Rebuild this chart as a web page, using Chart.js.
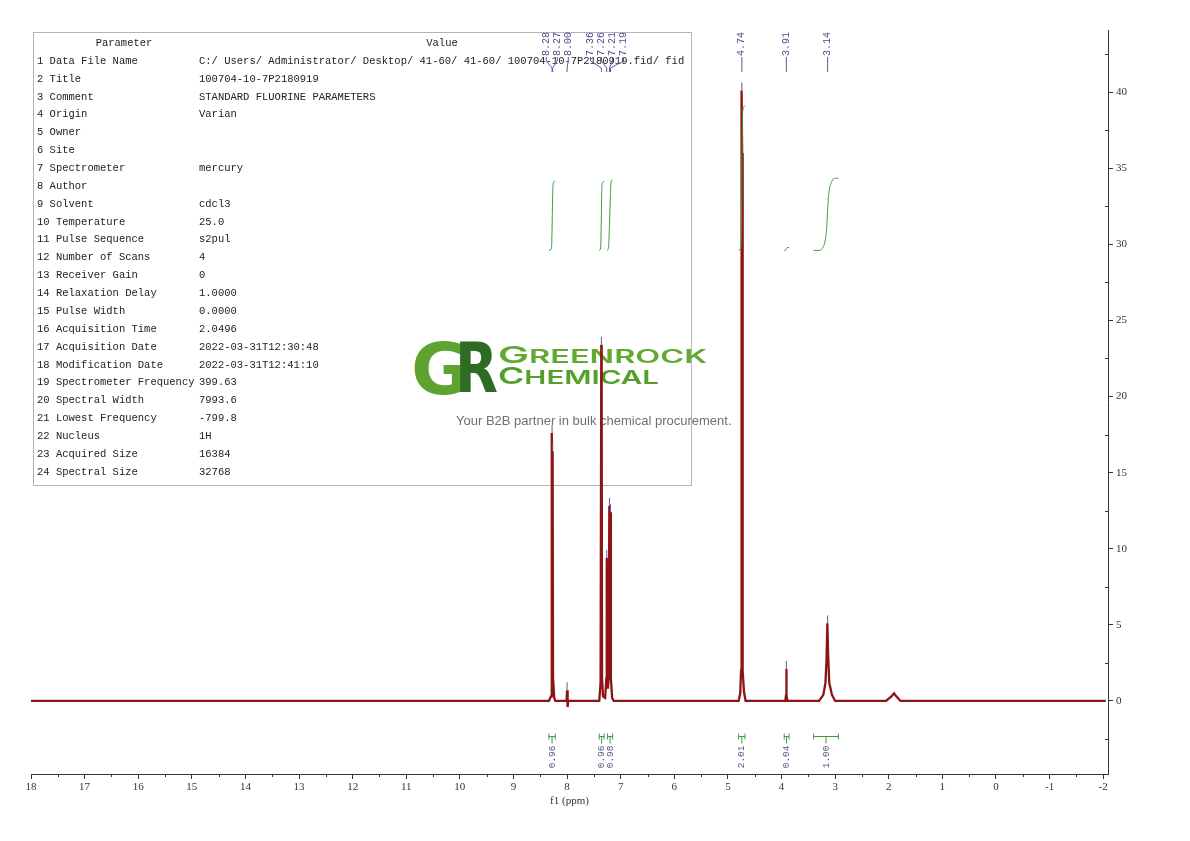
<!DOCTYPE html>
<html>
<head>
<meta charset="utf-8">
<script src="https://cdn.jsdelivr.net/npm/chart.js@4.4.1/dist/chart.umd.min.js"></script>
<style>
html, body { margin: 0; padding: 0; background: #fff; }
canvas { display: block; }
</style>
</head>
<body>
<canvas id="c" width="1190" height="841"></canvas>
<script>
// spectrum trace: ppm / intensity
var specPpm = [18.0, 8.34, 8.30, 8.29, 8.282, 8.276, 8.270, 8.262, 8.24, 8.22,
  8.01, 8.0, 7.99, 7.98,
  7.40, 7.375, 7.362, 7.355, 7.348, 7.33,
  7.29, 7.268, 7.26, 7.252, 7.238,
  7.225, 7.212, 7.202, 7.193, 7.183, 7.16, 7.13,
  4.80, 4.77, 4.755, 4.745, 4.735, 4.725, 4.70, 4.67,
  3.93, 3.915, 3.91, 3.905, 3.89,
  3.30, 3.22, 3.18, 3.16, 3.145, 3.13, 3.11, 3.06, 3.00,
  2.05, 1.95, 1.90, 1.86, 1.78,
  -2.05];
var specInt = [0, 0, 0.3, 1.5, 17.6, 15.0, 16.4, 1.5, 0.2, 0,
  0, 0.7, -0.4, 0,
  0, 1.2, 23.4, 20.0, 1.5, 0.3,
  0.2, 1.5, 9.4, 1.5, 0.8,
  1.5, 12.8, 6.0, 12.4, 1.5, 0.2, 0,
  0, 0.5, 2.0, 40.1, 36.0, 2.0, 0.6, 0,
  0, 0.4, 2.1, 0.4, 0,
  0, 0.4, 1.2, 2.8, 5.1, 3.0, 1.2, 0.4, 0,
  0, 0.3, 0.5, 0.3, 0,
  0];

// picked peaks
var peakPpm = [8.28, 8.27, 8.00, 7.36, 7.26, 7.21, 7.19, 4.74, 3.91, 3.14];
var peakTop = [17.6, 16.4, 0.7, 23.4, 9.4, 12.8, 12.4, 40.1, 2.1, 5.1];

// integrals
var intFrom = [8.34, 7.40, 7.245, 4.80, 3.95, 3.40];
var intTo = [8.22, 7.31, 7.15, 4.68, 3.86, 2.94];
var intValue = [0.96, 0.96, 0.98, 2.01, 0.04, 1.00];

var xTicks = [-2, -1, 0, 1, 2, 3, 4, 5, 6, 7, 8, 9, 10, 11, 12, 13, 14, 15, 16, 17, 18];
var yTicks = [0, 5, 10, 15, 20, 25, 30, 35, 40];

var paramNames = ['Data File Name', 'Title', 'Comment', 'Origin', 'Owner', 'Site',
  'Spectrometer', 'Author', 'Solvent', 'Temperature', 'Pulse Sequence', 'Number of Scans',
  'Receiver Gain', 'Relaxation Delay', 'Pulse Width', 'Acquisition Time', 'Acquisition Date',
  'Modification Date', 'Spectrometer Frequency', 'Spectral Width', 'Lowest Frequency',
  'Nucleus', 'Acquired Size', 'Spectral Size'];
var paramValues = ['C:/ Users/ Administrator/ Desktop/ 41-60/ 41-60/ 100704-10-7P2180919.fid/ fid',
  '100704-10-7P2180919', 'STANDARD FLUORINE PARAMETERS', 'Varian', '', '',
  'mercury', '', 'cdcl3', '25.0', 's2pul', '4',
  '0', '1.0000', '0.0000', '2.0496', '2022-03-31T12:30:48',
  '2022-03-31T12:41:10', '399.63', '7993.6', '-799.8',
  '1H', '16384', '32768'];

var intBase = 29.6;   // integral curves start level
var intUnit = 4.74;   // height of 1.00 integral

function specAt(p) {
  for (var i = 0; i < specPpm.length - 1; i++) {
    if (p <= specPpm[i] && p >= specPpm[i + 1]) {
      var t = (specPpm[i] - p) / (specPpm[i] - specPpm[i + 1]);
      return specInt[i] + t * (specInt[i + 1] - specInt[i]);
    }
  }
  return 0;
}

// running integral of the trace over each range, scaled to its value
function integralCurve(k) {
  var xs = [intFrom[k]], ys = [specAt(intFrom[k])];
  for (var i = 0; i < specPpm.length; i++) {
    if (specPpm[i] < intFrom[k] && specPpm[i] > intTo[k]) { xs.push(specPpm[i]); ys.push(specInt[i]); }
  }
  xs.push(intTo[k]); ys.push(specAt(intTo[k]));
  var cum = [0];
  for (var j = 1; j < xs.length; j++) {
    cum.push(cum[j - 1] + (xs[j - 1] - xs[j]) * (Math.max(ys[j - 1], 0) + Math.max(ys[j], 0)) / 2);
  }
  var total = cum[cum.length - 1] || 1;
  return xs.map(function (x, j) { return { x: x, y: intBase + cum[j] / total * intValue[k] * intUnit }; });
}

function spread(pos, gap) {
  var groups = [];
  pos.forEach(function (p) {
    groups.push({ sum: p, n: 1 });
    while (groups.length > 1) {
      var b = groups[groups.length - 1], a = groups[groups.length - 2];
      var aEnd = a.sum / a.n + (a.n - 1) * gap / 2;
      var bStart = b.sum / b.n - (b.n - 1) * gap / 2;
      if (bStart - aEnd >= gap) break;
      groups.pop(); a.sum += b.sum; a.n += b.n;
    }
  });
  var out = [];
  groups.forEach(function (g) {
    var c = g.sum / g.n;
    for (var j = 0; j < g.n; j++) out.push(c + (j - (g.n - 1) / 2) * gap);
  });
  return out;
}

function stretchWord(ctx, first, rest, x, base, width, bigFont, smallFont, color) {
  ctx.save();
  ctx.fillStyle = color;
  ctx.textBaseline = 'alphabetic';
  ctx.textAlign = 'left';
  ctx.font = bigFont;
  var w1 = ctx.measureText(first).width;
  ctx.font = smallFont;
  var w2 = rest ? ctx.measureText(rest).width : 0;
  ctx.translate(x, base);
  ctx.scale(width / (w1 + w2), 1);
  ctx.font = bigFont;
  ctx.fillText(first, 0, 0);
  if (rest) {
    ctx.font = smallFont;
    ctx.fillText(rest, w1, 0);
  }
  ctx.restore();
}

var backdrop = {
  id: 'backdrop',
  beforeDatasetsDraw: function (chart) {
    var ctx = chart.ctx;
    ctx.save();
    // parameter table
    ctx.fillStyle = '#fff';
    ctx.fillRect(33.5, 32.5, 658, 453);
    ctx.strokeStyle = '#b4b4b4';
    ctx.lineWidth = 1;
    ctx.strokeRect(33.5, 32.5, 658, 453);
    ctx.fillStyle = '#222';
    ctx.font = '10.5px "Liberation Mono"';
    ctx.textBaseline = 'middle';
    ctx.textAlign = 'center';
    ctx.fillText('Parameter', 124, 43);
    ctx.fillText('Value', 442, 43);
    ctx.textAlign = 'left';
    for (var i = 0; i < paramNames.length; i++) {
      var y = 61 + i * 17.87;
      ctx.fillText((i + 1) + ' ' + paramNames[i], 37, y);
      ctx.fillText(paramValues[i], 199, y);
    }
    // watermark
    stretchWord(ctx, 'G', '', 411, 394, 59, 'bold 72px "DejaVu Sans"', '', '#5ea22f');
    stretchWord(ctx, 'R', '', 455, 392, 43, 'bold 70px "DejaVu Sans"', '', '#2e6c24');
    stretchWord(ctx, 'G', 'REENROCK', 498, 363, 209, '600 23px Inter', '600 18px Inter', '#63a830');
    stretchWord(ctx, 'C', 'HEMICAL', 498, 384, 161, '600 23px Inter', '600 19px Inter', '#55a02a');
    ctx.fillStyle = '#707070';
    ctx.font = '13px "Liberation Sans"';
    ctx.textBaseline = 'middle';
    ctx.textAlign = 'left';
    ctx.fillText('Your B2B partner in bulk chemical procurement.', 456, 421);
    ctx.restore();
  },
  afterDatasetsDraw: function (chart) {
    var ctx = chart.ctx, xs = chart.scales.x, ys = chart.scales.y, area = chart.chartArea;
    ctx.save();
    ctx.lineWidth = 1;
    // minor ticks
    ctx.strokeStyle = '#333';
    ctx.beginPath();
    for (var v = -1.5; v < 18; v += 1) {
      var px = Math.round(xs.getPixelForValue(v)) + 0.5;
      ctx.moveTo(px, area.bottom); ctx.lineTo(px, area.bottom + 3);
    }
    for (var w = -2.5; w < 44; w += 5) {
      var py = Math.round(ys.getPixelForValue(w)) + 0.5;
      ctx.moveTo(area.right - 3, py); ctx.lineTo(area.right, py);
    }
    ctx.stroke();

    // peak markers and labels
    var pk = peakPpm.map(function (p) { return xs.getPixelForValue(p); });
    var lx = spread(pk, 11);
    ctx.strokeStyle = '#5a5aa2';
    ctx.fillStyle = '#4e4e92';
    ctx.font = '10px "Liberation Mono"';
    ctx.textBaseline = 'middle';
    ctx.textAlign = 'left';
    for (var i = 0; i < peakPpm.length; i++) {
      var top = ys.getPixelForValue(peakTop[i]);
      ctx.beginPath();
      ctx.moveTo(pk[i], top); ctx.lineTo(pk[i], top - 8);
      ctx.moveTo(lx[i], 57); ctx.lineTo(lx[i], 61); ctx.lineTo(pk[i], 68); ctx.lineTo(pk[i], 72);
      ctx.stroke();
      ctx.save();
      ctx.translate(lx[i], 56);
      ctx.rotate(-Math.PI / 2);
      ctx.fillText(peakPpm[i].toFixed(2), 0, 0);
      ctx.restore();
    }

    // integral brackets and values
    var by = Math.round(ys.getPixelForValue(-2.3)) + 0.5;
    for (var k = 0; k < intFrom.length; k++) {
      var x1 = xs.getPixelForValue(intFrom[k]), x2 = xs.getPixelForValue(intTo[k]);
      var xc = (x1 + x2) / 2;
      ctx.strokeStyle = '#3f9a3f';
      ctx.beginPath();
      ctx.moveTo(x1, by - 3); ctx.lineTo(x1, by + 3);
      ctx.moveTo(x2, by - 3); ctx.lineTo(x2, by + 3);
      ctx.moveTo(x1, by); ctx.lineTo(x2, by);
      ctx.moveTo(xc, by); ctx.lineTo(xc, by + 7);
      ctx.stroke();
      ctx.save();
      ctx.translate(xc, by + 9);
      ctx.rotate(-Math.PI / 2);
      ctx.textAlign = 'right';
      ctx.fillStyle = '#55557e';
      ctx.font = '9.5px "Liberation Mono"';
      ctx.fillText(intValue[k].toFixed(2), 0, 0);
      ctx.restore();
    }
    ctx.restore();
  }
};

var datasets = [];
for (var k = 0; k < intFrom.length; k++) {
  datasets.push({
    data: integralCurve(k),
    showLine: true,
    borderColor: '#3f9a3f',
    borderWidth: 1,
    pointRadius: 0,
    cubicInterpolationMode: 'monotone',
    order: 0
  });
}
datasets.push({
  data: specPpm.map(function (p, i) { return { x: p, y: specInt[i] }; }),
  showLine: true,
  borderColor: '#8b1414',
  borderWidth: 2.3,
  pointRadius: 0,
  tension: 0,
  order: 1
});

var axisFont = { family: '"Liberation Serif"', size: 11 };

new Chart(document.getElementById('c').getContext('2d'), {
  type: 'scatter',
  data: { datasets: datasets },
  options: {
    responsive: false,
    animation: false,
    devicePixelRatio: 1,
    layout: { padding: { left: 31, right: 42, top: 30, bottom: 27 } },
    plugins: { legend: { display: false }, tooltip: { enabled: false } },
    scales: {
      x: {
        type: 'linear',
        reverse: true,
        min: -2.09,
        max: 18,
        afterBuildTicks: function (s) { s.ticks = xTicks.map(function (v) { return { value: v }; }); },
        afterFit: function (s) { s.height = 40; },
        grid: { display: true, drawOnChartArea: false, drawTicks: true, tickLength: 5, color: '#333' },
        border: { display: true, color: '#333', width: 1 },
        ticks: { font: axisFont, color: '#333', padding: 2, maxRotation: 0, autoSkip: false },
        title: { display: true, text: 'f1 (ppm)', font: { family: '"Liberation Serif"', size: 11 }, color: '#333', padding: { top: 0, bottom: 6 } }
      },
      y: {
        position: 'right',
        min: -4.8,
        max: 44.08,
        afterBuildTicks: function (s) { s.ticks = yTicks.map(function (v) { return { value: v }; }); },
        afterFit: function (s) { s.width = 40; },
        grid: { display: true, drawOnChartArea: false, drawTicks: true, tickLength: 5, color: '#333' },
        border: { display: true, color: '#333', width: 1 },
        ticks: { font: axisFont, color: '#333', padding: 3, autoSkip: false }
      }
    }
  },
  plugins: [backdrop]
});
</script>
</body>
</html>
